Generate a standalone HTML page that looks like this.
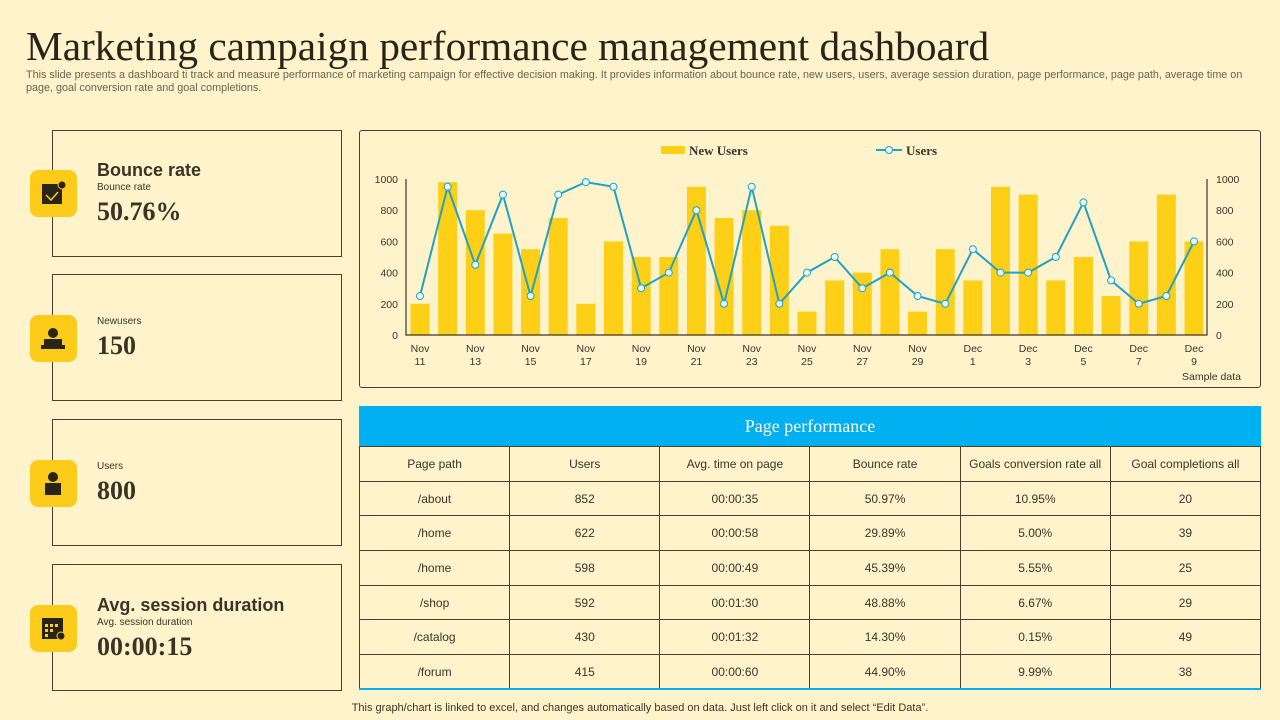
<!DOCTYPE html>
<html><head><meta charset="utf-8">
<style>
*{margin:0;padding:0;box-sizing:border-box}
body{width:1280px;height:720px;background:#fff3cc;font-family:"Liberation Sans",sans-serif;color:#3b3426;position:relative;overflow:hidden}
h1{position:absolute;left:26px;top:22px;font-family:"Liberation Serif",serif;font-weight:normal;font-size:41.3px;line-height:48px;color:#2a2418;letter-spacing:0px;white-space:nowrap}
.sub{position:absolute;left:26px;top:69px;width:1222px;font-size:10.8px;line-height:13px;color:#6b6250}
.card{position:absolute;left:52px;width:290px;height:127px;border:1.5px solid #4a3f2a}
.icon{position:absolute;left:30px;width:47px;height:47px;background:#fdcc1a;border-radius:8px}
.icon svg{position:absolute;left:11px;top:11px}
.ct{position:absolute;left:97px;font-size:18px;font-weight:bold;color:#3b3426}
.cs{position:absolute;left:97px;font-size:10px;color:#3b3426}
.cv{position:absolute;left:97px;font-family:"Liberation Serif",serif;font-weight:bold;font-size:26px;color:#3b3426}
#chartbox{position:absolute;left:359px;top:130px;width:902px;height:258px;border:1.5px solid #4a3f2a;border-radius:3px}
table{position:absolute;left:359px;top:446px;width:902px;border-collapse:collapse;font-size:12px;color:#3b3426}
td{border:1px solid #4a3f2a;text-align:center;height:34.7px;width:150px}
.th{position:absolute;left:359px;top:406px;width:902px;height:40px;background:#00b0f0;color:#fff;font-family:"Liberation Serif",serif;font-size:18px;text-align:center;line-height:40px}
.foot{position:absolute;left:0;width:1280px;top:702px;text-align:center;font-size:11px;color:#3b3426}
</style></head><body>
<h1>Marketing campaign performance management dashboard</h1>
<div class="sub">This slide presents a dashboard ti track and measure performance of marketing campaign for effective decision making. It provides information about bounce rate, new users, users, average session duration, page performance, page path, average time on page, goal conversion rate and goal completions.</div>

<div class="card" style="top:130px"></div>
<div class="icon" style="top:170px"><svg width="25" height="25"><rect x="1" y="3" width="20" height="20" fill="#2a2418"/><polyline points="5,14 10,19 17,11" stroke="#fdcc1a" stroke-width="1.5" fill="none"/><circle cx="21" cy="4" r="4" fill="#2a2418" stroke="#fdcc1a"/></svg></div>
<div class="ct" style="top:160px">Bounce rate</div>
<div class="cs" style="top:182px">Bounce rate</div>
<div class="cv" style="top:197px">50.76%</div>

<div class="card" style="top:274px"></div>
<div class="icon" style="top:315px"><svg width="25" height="25"><circle cx="12" cy="7" r="5" fill="#2a2418"/><rect x="3" y="13" width="18" height="6" fill="#2a2418"/><rect x="0" y="19" width="24" height="4" fill="#2a2418"/></svg></div>
<div class="cs" style="top:316px">Newusers</div>
<div class="cv" style="top:331px">150</div>

<div class="card" style="top:419px"></div>
<div class="icon" style="top:460px"><svg width="25" height="25"><circle cx="12" cy="6" r="5" fill="#2a2418"/><rect x="4" y="12" width="16" height="12" fill="#2a2418"/></svg></div>
<div class="cs" style="top:461px">Users</div>
<div class="cv" style="top:476px">800</div>

<div class="card" style="top:564px"></div>
<div class="icon" style="top:605px"><svg width="25" height="25"><rect x="1" y="2" width="21" height="21" fill="#2a2418"/><g fill="#fdcc1a"><rect x="4" y="8" width="3" height="3"/><rect x="9" y="8" width="3" height="3"/><rect x="14" y="8" width="3" height="3"/><rect x="4" y="13" width="3" height="3"/><rect x="9" y="13" width="3" height="3"/><rect x="4" y="18" width="3" height="3"/></g><circle cx="20" cy="20" r="4" fill="#2a2418" stroke="#fdcc1a"/></svg></div>
<div class="ct" style="top:595px">Avg. session duration</div>
<div class="cs" style="top:617px">Avg. session duration</div>
<div class="cv" style="top:632px">00:00:15</div>

<div id="chartbox"></div>
<svg id="chart" width="1280" height="400" style="position:absolute;left:0;top:0"></svg>

<div class="th">Page performance</div>
<table>
<tr><td>Page path</td><td>Users</td><td>Avg. time on page</td><td>Bounce rate</td><td>Goals conversion rate all</td><td>Goal completions all</td></tr>
<tr><td>/about</td><td>852</td><td>00:00:35</td><td>50.97%</td><td>10.95%</td><td>20</td></tr>
<tr><td>/home</td><td>622</td><td>00:00:58</td><td>29.89%</td><td>5.00%</td><td>39</td></tr>
<tr><td>/home</td><td>598</td><td>00:00:49</td><td>45.39%</td><td>5.55%</td><td>25</td></tr>
<tr><td>/shop</td><td>592</td><td>00:01:30</td><td>48.88%</td><td>6.67%</td><td>29</td></tr>
<tr><td>/catalog</td><td>430</td><td>00:01:32</td><td>14.30%</td><td>0.15%</td><td>49</td></tr>
<tr style="border-bottom:2px solid #00b0f0"><td>/forum</td><td>415</td><td>00:00:60</td><td>44.90%</td><td>9.99%</td><td>38</td></tr>
</table>
<div class="foot">This graph/chart is linked to excel, and changes automatically based on data. Just left click on it and select “Edit Data”.</div>

<script>
const days = ["Nov 11","Nov 12","Nov 13","Nov 14","Nov 15","Nov 16","Nov 17","Nov 18","Nov 19","Nov 20","Nov 21","Nov 22","Nov 23","Nov 24","Nov 25","Nov 26","Nov 27","Nov 28","Nov 29","Nov 30","Dec 1","Dec 2","Dec 3","Dec 4","Dec 5","Dec 6","Dec 7","Dec 8","Dec 9"];
const newUsers = [200,980,800,650,550,750,200,600,500,500,950,750,800,700,150,350,400,550,150,550,350,950,900,350,500,250,600,900,600];
const users = [250,950,450,900,250,900,980,950,300,400,800,200,950,200,400,500,300,400,250,200,550,400,400,500,850,350,200,250,600];
const ticks = [0,200,400,600,800,1000];

const svg = document.getElementById('chart');
const NS = 'http://www.w3.org/2000/svg';
const x0 = 420, step = (1194-420)/28, yB = 335, yT = 179;
const X = i => x0 + i*step;
const Y = v => yB - v/1000*(yB-yT);
function mk(t, a){const e=document.createElementNS(NS,t);for(const k in a)e.setAttribute(k,a[k]);svg.appendChild(e);return e;}

newUsers.forEach((v,i)=>{
  const r = mk('rect',{x:X(i)-9.5,y:Y(v),width:19,height:yB-Y(v),fill:'#fdd017'});
  
  
});
const ax = mk('path',{d:`M406 ${yT} V${yB} H1207 V${yT}`,stroke:'#3b3426','stroke-width':1.2,fill:'none'});


ticks.forEach(t=>{
  const a = mk('text',{x:398,y:Y(t)+4,'text-anchor':'end','font-size':10.5,fill:'#3b3426'}); a.textContent=t;
  
  
  const b = mk('text',{x:1216,y:Y(t)+4,'font-size':10.5,fill:'#3b3426'}); b.textContent=t;
  
  
});
days.forEach((d,i)=>{
  if(i%2) return;
  const p = d.split(' ');
  const t1 = mk('text',{x:X(i),y:352,'text-anchor':'middle','font-size':10.5,fill:'#3b3426'}); t1.textContent=p[0];
  
  
  const t2 = mk('text',{x:X(i),y:365,'text-anchor':'middle','font-size':10.5,fill:'#3b3426'}); t2.textContent=p[1];
  
  
});
const ln = mk('polyline',{points:users.map((v,i)=>X(i)+','+Y(v)).join(' '),stroke:'#1fa2c6','stroke-width':2,fill:'none'});


users.forEach((v,i)=>{
  const c = mk('circle',{cx:X(i),cy:Y(v),r:3.5,fill:'#e8f8fc',stroke:'#1fa2c6','stroke-width':1});
  
  
});
const sd = mk('text',{x:1241,y:380,'text-anchor':'end','font-size':10.5,fill:'#3b3426'}); sd.textContent='Sample data';


const l1 = mk('rect',{x:661,y:146,width:24,height:8,fill:'#fdd017'});


const lt1 = mk('text',{x:689,y:155,'font-family':'Liberation Serif, serif','font-weight':'bold','font-size':13,fill:'#3b3426'}); lt1.textContent='New Users';


const l2 = mk('line',{x1:876,y1:150,x2:902,y2:150,stroke:'#1fa2c6','stroke-width':2});


const l2c = mk('circle',{cx:889,cy:150,r:3.5,fill:'#e8f8fc',stroke:'#1fa2c6'});


const lt2 = mk('text',{x:906,y:155,'font-family':'Liberation Serif, serif','font-weight':'bold','font-size':13,fill:'#3b3426'}); lt2.textContent='Users';


</script>
</body></html>
